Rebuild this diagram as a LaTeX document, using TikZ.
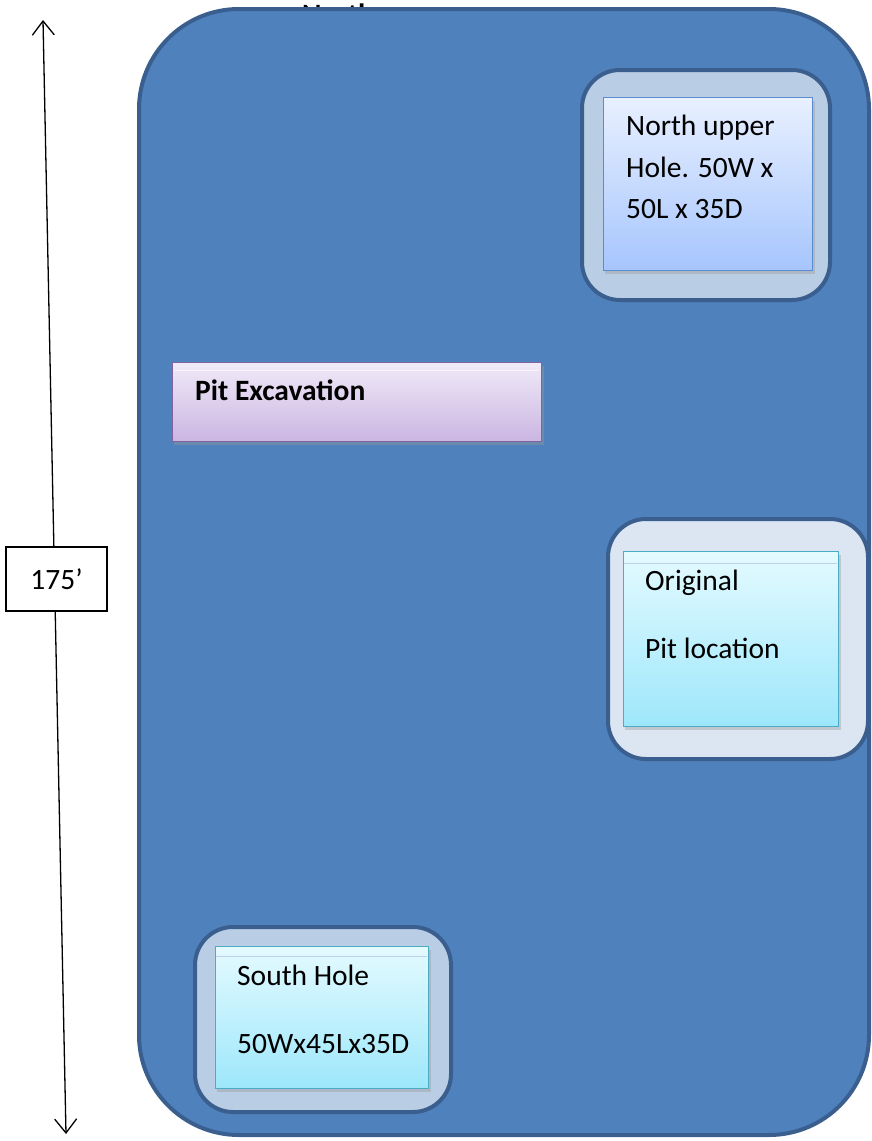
\documentclass[tikz,border=0pt]{standalone}
\usepackage{fontspec}
\setmainfont{Carlito}
\usetikzlibrary{arrows.meta}

\definecolor{sitefill}{HTML}{4F81BD}
\definecolor{siteline}{HTML}{3A5F8F}
\definecolor{padblue}{HTML}{B9CDE5}
\definecolor{padgrey}{HTML}{DCE6F2}
\definecolor{skytop}{HTML}{E8F0FF}
\definecolor{skybot}{HTML}{A6C5FD}
\definecolor{skyline}{HTML}{5B8CD0}
\definecolor{lilactop}{HTML}{F0EAF8}
\definecolor{lilacbot}{HTML}{CBB5E2}
\definecolor{lilacline}{HTML}{8064A2}
\definecolor{aquatop}{HTML}{E4FAFF}
\definecolor{aquabot}{HTML}{9DE7FB}
\definecolor{aqualine}{HTML}{4BACC6}

\tikzset{
	pad/.style={draw=siteline, line width=4pt, rounded corners=38pt, anchor=north west, inner sep=0pt},
	holebox/.style n args={3}{draw=#3, line width=1.2pt, top color=#1, bottom color=#2,
		anchor=north west, inner sep=0pt},
	txt/.style={anchor=base west, inner sep=0pt, font=\fontsize{29.5}{35}\selectfont},
}

\begin{document}
\begin{tikzpicture}[x=1pt, y=-1pt]
	\useasboundingbox (0,0) rectangle (872,1141);

	% heading, mostly hidden behind the site
	\node[txt, font=\fontsize{29.5}{35}\selectfont\bfseries] (north) at (302,24) {North};

	% site outline
	\node[draw=siteline, fill=sitefill, line width=4pt, rounded corners=100pt,
		anchor=north west, inner sep=0pt, minimum width=730pt, minimum height=1126pt] (site) at (137,7) {};

	% holes
	\node[pad, fill=padblue, minimum width=248pt, minimum height=230pt] (northpad) at (580,68) {};
	\fill[black!40, opacity=0.4] (605,101) rectangle (815,274);
	\node[holebox={skytop}{skybot}{skyline}, minimum width=209pt, minimum height=173pt] (northhole) at (603,97) {};

	\fill[black!40, opacity=0.4] (174,366) rectangle (544,445);
	\node[holebox={lilactop}{lilacbot}{lilacline}, minimum width=369pt, minimum height=79pt] (pit) at (172,362) {};
	\draw[white, opacity=0.6] (174,370) -- (539,370);

	\node[pad, fill=padgrey, minimum width=260pt, minimum height=240pt] (origpad) at (606,517) {};
	\fill[black!40, opacity=0.4] (625,555) rectangle (841,730);
	\node[holebox={aquatop}{aquabot}{aqualine}, minimum width=215pt, minimum height=175pt] (orighole) at (623,551) {};
	\draw[skyline!40] (624,563) -- (837,563);

	\node[pad, fill=padblue, minimum width=256pt, minimum height=185pt] (southpad) at (193,925) {};
	\fill[black!40, opacity=0.4] (217,950) rectangle (431,1092);
	\node[holebox={aquatop}{aquabot}{aqualine}, minimum width=213pt, minimum height=142pt] (southhole) at (215,946) {};
	\draw[skyline!40] (216,956) -- (427,956);

	% labels
	\node[txt] (nl1) at (626,135) {North upper};
	\node[txt] (nl2) at (626,177) {Hole. 50W x};
	\node[txt] (nl3) at (626,218) {50L x 35D};
	\node[txt, font=\fontsize{29.5}{35}\selectfont\bfseries] (pitlbl) at (195,400) {Pit Excavation};
	\node[txt] (ol1) at (645,590) {Original};
	\node[txt] (ol2) at (645,658) {Pit location};
	\node[txt] (sl1) at (237,985) {South Hole};
	\node[txt] (sl2) at (237,1053) {50Wx45Lx35D};

	% length of the site
	\coordinate (dimtop) at (43,20);
	\coordinate (dimbot) at (66,1134);
	\draw[line width=1.3pt, {Straight Barb[length=14pt,width=22pt]}-{Straight Barb[length=14pt,width=22pt]}] (dimtop) -- (dimbot);
	\node[draw, fill=white, line width=1.5pt, minimum width=101pt, minimum height=64pt, inner sep=0pt,
		font=\fontsize{29.5}{35}\selectfont] (len) at (56.5,579) {175’};
\end{tikzpicture}
\end{document}
